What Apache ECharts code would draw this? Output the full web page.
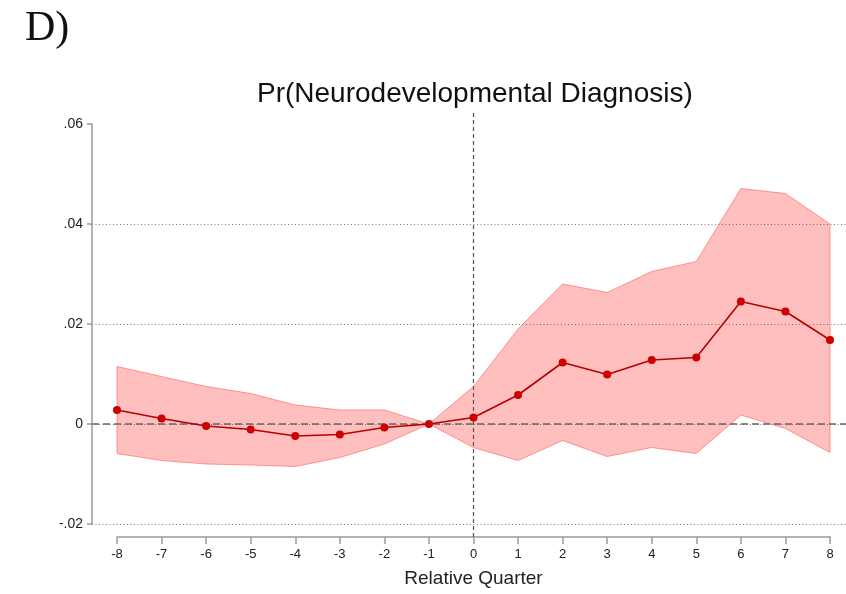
<!DOCTYPE html>
<html>
<head>
<meta charset="utf-8">
<script src="https://cdn.jsdelivr.net/npm/echarts@6/dist/echarts.min.js"></script>
<style>
  html, body { margin: 0; padding: 0; background: #fff; }
  #chart { width: 846px; height: 594px; }
</style>
</head>
<body>
<div id="chart"></div>
<script>
// relative quarter around the event
const quarters = [-8, -7, -6, -5, -4, -3, -2, -1, 0, 1, 2, 3, 4, 5, 6, 7, 8];
// point estimates and 95% CI bounds
const estimate = [0.0028, 0.0011, -0.0004, -0.0011, -0.0024, -0.0021, -0.0007, 0, 0.0013,
  0.0058, 0.0123, 0.0099, 0.0128, 0.0133, 0.0245, 0.0225, 0.0168];
const upper = [0.0115, 0.0095, 0.0075, 0.0061, 0.0038, 0.0028, 0.0028, 0, 0.0075,
  0.019, 0.028, 0.0263, 0.0305, 0.0325, 0.0471, 0.0461, 0.040];
const lower = [-0.0059, -0.0073, -0.008, -0.0082, -0.0085, -0.0067, -0.004, 0, -0.0047,
  -0.0073, -0.0033, -0.0065, -0.0047, -0.0059, 0.0018, -0.0009, -0.0057];
const yTicks = [-0.02, 0, 0.02, 0.04, 0.06];

const chart = echarts.init(document.getElementById("chart"));

const fmtY = (v) => {
  if (Math.abs(v) < 1e-9) return "0";
  return v.toFixed(2).replace("0.", ".");
};

const axisGray = "#9a9a9a";
const labelFont = "Liberation Sans";

// CI band as one polygon: upper edge left->right, lower edge right->left
const renderBand = (params, api) => {
  if (params.dataIndex !== 0) return null;
  const top = quarters.map((q, i) => api.coord([q, upper[i]]));
  const bottom = quarters.map((q, i) => api.coord([q, lower[i]])).reverse();
  return {
    type: "polygon",
    shape: { points: top.concat(bottom) },
    style: { fill: "rgba(255, 0, 0, 0.25)", stroke: "rgba(255, 90, 90, 0.6)", lineWidth: 1 },
  };
};

const option = {
  animation: false,
  title: [
    {
      text: "D)",
      left: 20,
      top: 3,
      textStyle: { fontFamily: "Liberation Serif", fontSize: 42, fontWeight: "normal", color: "#111" },
    },
    {
      text: "Pr(Neurodevelopmental Diagnosis)",
      left: 252,
      top: 75,
      textStyle: { fontFamily: labelFont, fontSize: 28, fontWeight: "normal", color: "#111" },
    },
  ],
  grid: [
    { left: 92, right: 0, top: 124, bottom: 70 },
    { left: 117, right: 16, top: 124, bottom: 70 },
  ],
  xAxis: [
    { gridIndex: 0, type: "value", min: 0, max: 1, show: false },
    {
      gridIndex: 1,
      type: "value",
      min: quarters[0],
      max: quarters[quarters.length - 1],
      interval: 1,
      offset: 13,
      axisLine: { onZero: false, lineStyle: { color: axisGray, width: 1.5 } },
      axisTick: { length: 7, lineStyle: { color: axisGray, width: 1.5 } },
      axisLabel: { fontFamily: labelFont, fontSize: 13, color: "#222", margin: 11 },
      splitLine: { show: false },
      name: "Relative Quarter",
      nameLocation: "middle",
      nameGap: 32,
      nameTextStyle: { fontFamily: labelFont, fontSize: 19, color: "#222" },
    },
  ],
  yAxis: [
    {
      gridIndex: 0,
      type: "value",
      min: yTicks[0],
      max: yTicks[yTicks.length - 1],
      interval: 0.02,
      axisLine: { show: true, lineStyle: { color: axisGray, width: 1.5 } },
      axisTick: { show: true, length: 5, lineStyle: { color: axisGray, width: 1.5 } },
      axisLabel: { fontFamily: labelFont, fontSize: 14, color: "#222", margin: 9, formatter: fmtY },
      splitLine: {
        show: true,
        lineStyle: {
          color: ["#7a7a7a", "#7a7a7a", "#7a7a7a", "#7a7a7a", "rgba(0,0,0,0)"],
          type: [1, 2.5],
          width: 1,
        },
      },
    },
    { gridIndex: 1, type: "value", min: yTicks[0], max: yTicks[yTicks.length - 1], show: false },
  ],
  series: [
    {
      // horizontal reference at zero across the plot region
      name: "zero",
      type: "line",
      xAxisIndex: 0,
      yAxisIndex: 0,
      data: [[0, 0], [1, 0]],
      symbol: "none",
      silent: true,
      lineStyle: { color: "#666", width: 1.3, type: [7, 4] },
      z: 3,
    },
    {
      name: "ci",
      type: "custom",
      xAxisIndex: 1,
      yAxisIndex: 1,
      data: quarters.map((q, i) => [q, lower[i], upper[i]]),
      renderItem: renderBand,
      silent: true,
      z: 2,
    },
    {
      // vertical reference at the event quarter
      name: "event",
      type: "line",
      xAxisIndex: 1,
      yAxisIndex: 1,
      clip: false,
      data: [[0, -0.0226], [0, 0.0628]],
      symbol: "none",
      silent: true,
      lineStyle: { color: "#555", width: 1.2, type: [4, 3] },
      z: 3,
    },
    {
      name: "estimate",
      type: "line",
      xAxisIndex: 1,
      yAxisIndex: 1,
      data: quarters.map((q, i) => [q, estimate[i]]),
      symbol: "circle",
      symbolSize: 8,
      itemStyle: { color: "#cc0000" },
      lineStyle: { color: "#b80000", width: 1.6 },
      z: 5,
    },
  ],
};

chart.setOption(option);
</script>
</body>
</html>
